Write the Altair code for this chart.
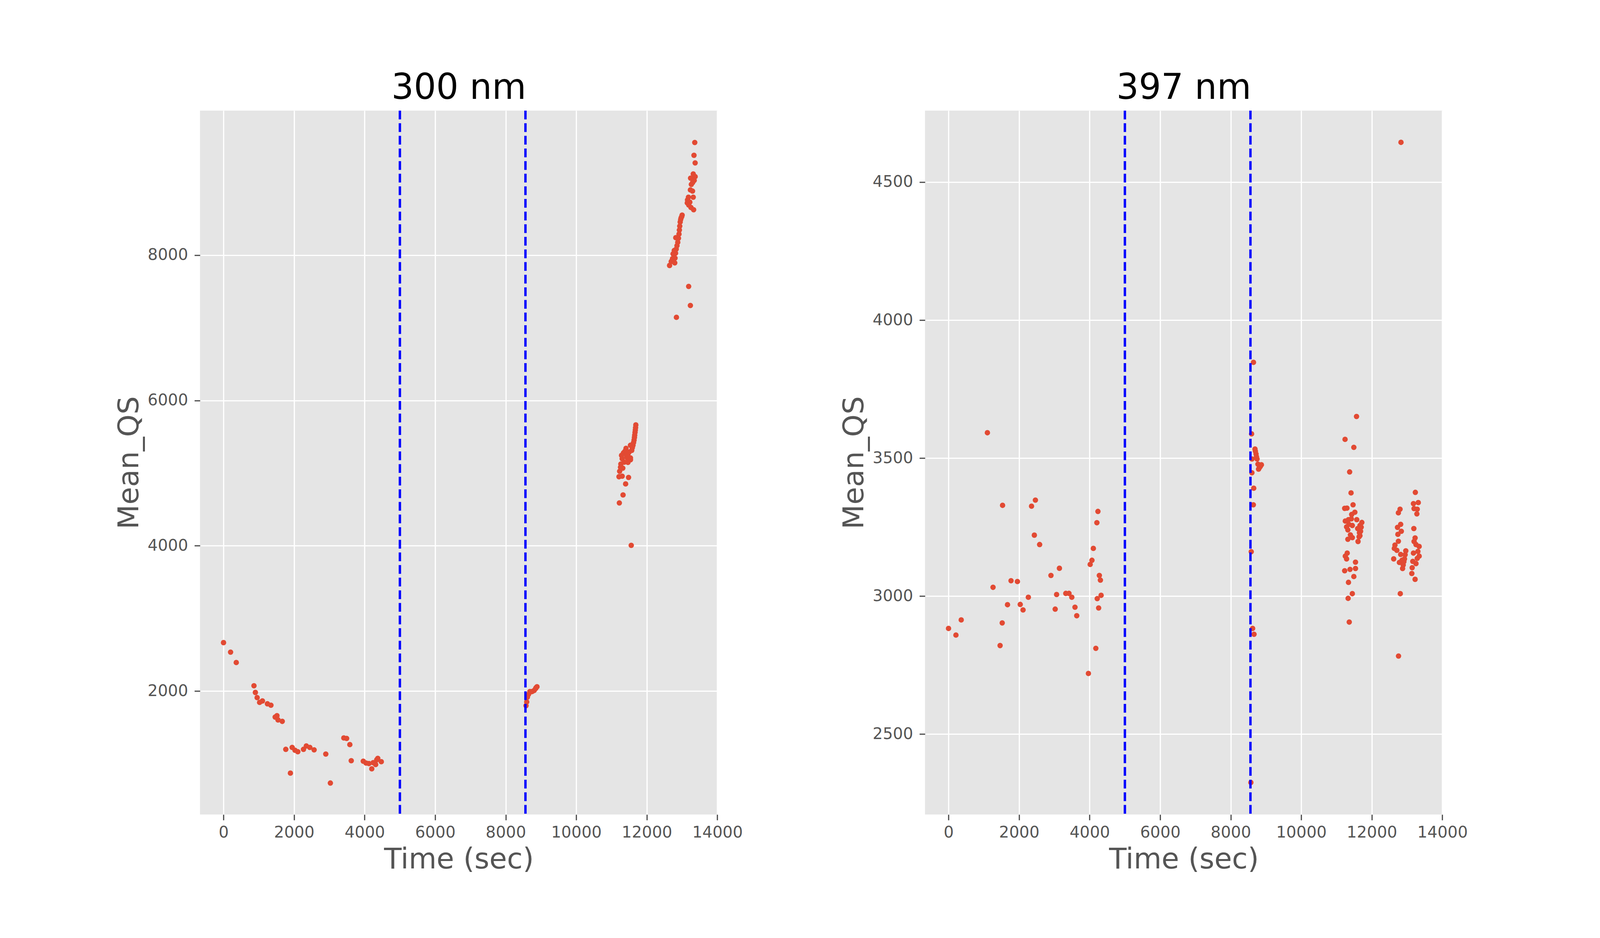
import altair as alt
import pandas as pd

# ---- data ----
t300 = [0, 200, 361, 863, 903, 953, 1023, 1103, 1244, 1344, 1464, 1515, 1545, 1665, 1765, 1896, 1946, 2026, 2106,
        2267, 2347, 2447, 2568, 2899, 3029, 3410, 3490, 3581, 3621, 3962, 4042, 4122, 4203, 4243, 4313, 4373, 4473, 4343,
        8576, 8596, 8616, 8646, 8686, 8747, 8807, 8847, 8887, 8860, 8720,
        11689, 11675, 11657, 11639, 11609, 11537, 11573, 11411, 11338, 11284, 11465, 11537, 11447, 11302, 11537, 11465,
        11265, 11320, 11230, 11212, 11302, 11483, 11400, 11327, 11222, 11559, 11682, 11667, 11650, 11625, 11590, 11380,
        11430, 11500, 11360, 11255,
        13360, 13338, 13371, 13317, 13241, 13371, 13344, 13263, 13300, 13236, 13296, 13181, 13317, 13148, 13220, 13253,
        13328, 13190, 13155, 13002, 12972, 12947, 12934, 12924, 12913, 12898, 12822, 12878, 12856, 12834, 12779, 12816,
        12745, 12800, 12729, 12693, 12793, 12646, 12960, 12990, 13187, 13236, 12840]
q300 = [2666, 2535, 2392, 2072, 1980, 1909, 1843, 1863, 1824, 1804, 1641, 1660, 1602, 1582, 1197, 870, 1223, 1184, 1164,
        1197, 1243, 1223, 1190, 1132, 733, 1354, 1347, 1262, 1040, 1034, 1008, 1001, 929, 1014, 988, 1073, 1027, 1053,
        1798, 1850, 1915, 1954, 1993, 1993, 2007, 2033, 2059, 2045, 1990,
        5663, 5593, 5523, 5455, 5383, 5383, 5313, 5340, 5278, 5244, 5261, 5209, 5209, 5197, 5183, 5147,
        5124, 5068, 5025, 4950, 4957, 4940, 4851, 4699, 4589, 4005, 5625, 5560, 5490, 5420, 5350, 5300,
        5230, 5290, 5150, 5080,
        9551, 9375, 9270, 9118, 9060, 9081, 9029, 8974, 9000, 8898, 8882, 8798, 8798, 8719, 8730, 8656,
        8625, 8690, 8760, 8551, 8513, 8457, 8400, 8346, 8290, 8233, 8241, 8177, 8130, 8083, 8064, 8027,
        8017, 7960, 7951, 7913, 7894, 7858, 8490, 8530, 7570, 7307, 7144]

t397 = [0, 210, 360, 1102, 1262, 1462, 1522, 1532, 1672, 1772, 1953, 2033, 2113, 2263, 2353, 2433, 2463, 2583, 2904,
        3024, 3064, 3144, 3325, 3415, 3495, 3585, 3635, 3966, 4016, 4066, 4106, 4176, 4206, 4216, 4236, 4256, 4276,
        4306, 4326,
        8646, 8592, 8689, 8718, 8747, 8772, 8790, 8870, 8603, 8601, 8653, 8642, 8582, 8622, 8662, 8572, 8700, 8730,
        8810, 8840,
        11567, 11242, 11491, 11372, 11412, 11469, 11231, 11296, 11520, 11430, 11249, 11339, 11574, 11718, 11285, 11448,
        11664, 11600, 11321, 11682, 11394, 11664, 11321, 11610, 11448, 11303, 11249, 11285, 11538, 11231, 11383, 11538,
        11491, 11339, 11448, 11329, 11361, 11640, 11650, 11700, 11350, 11420,
        12828, 13235, 13181, 13318, 13199, 13289, 13278, 12801, 12754, 12819, 12729, 12837, 12740, 12754, 12657, 12639,
        12711, 12621, 12783, 12873, 12964, 12927, 12891, 12819, 12855, 13192, 13228, 13199, 13343, 13253, 13307, 13181,
        13343, 13289, 13163, 13253, 13145, 13135, 13228, 12808, 12758, 12945, 12910]
q397 = [2883, 2859, 2914, 3592, 3032, 2821, 2903, 3329, 2969, 3056, 3053, 2970, 2950, 2996, 3326, 3221, 3348, 3187, 3075,
        2953, 3006, 3101, 3010, 3010, 2996, 2960, 2929, 2720, 3115, 3130, 3173, 2811, 3266, 2991, 3307, 2957, 3075,
        3058, 3003,
        3847, 3588, 3533, 3515, 3497, 3478, 3460, 3476, 3497, 3447, 3391, 3331, 3161, 2883, 2862, 2325, 3525, 3505,
        3465, 3470,
        3651, 3568, 3539, 3450, 3374, 3331, 3318, 3319, 3304, 3296, 3272, 3277, 3277, 3267, 3251, 3256,
        3256, 3245, 3240, 3235, 3222, 3219, 3206, 3198, 3212, 3156, 3145, 3135, 3123, 3092, 3097, 3100,
        3071, 3050, 3009, 2992, 2906, 3215, 3230, 3250, 3260, 3280,
        4644, 3376, 3335, 3339, 3317, 3315, 3298, 3315, 3302, 3260, 3249, 3235, 3224, 3199, 3185, 3173,
        3166, 3135, 3122, 3100, 3164, 3135, 3113, 3151, 3130, 3245, 3211, 3198, 3180, 3187, 3162, 3156,
        3145, 3137, 3126, 3118, 3103, 3082, 3061, 3009, 2783, 3150, 3125]

vlines = [5000, 8560]
x_ticks = [0, 2000, 4000, 6000, 8000, 10000, 12000, 14000]
y_ticks_300 = [2000, 4000, 6000, 8000]
y_ticks_397 = [2500, 3000, 3500, 4000, 4500]
titles = ["300 nm", "397 nm"]

FONT = "DejaVu Sans"
S = 1 / 1.0235          # page-to-picture scale correction
W, H = round(1356 * S), round(1843 * S)


def panel(t, q, title, ydom, yticks):
    df = pd.DataFrame({"t": t, "q": q})
    pts = alt.Chart(df).mark_circle(size=200 * S * S, color="#E24A33", opacity=1).encode(
        x=alt.X("t:Q",
                scale=alt.Scale(domain=[-667, 14007], nice=False, zero=False),
                axis=alt.Axis(values=x_ticks, format="d", title="Time (sec)",
                              labelOverlap=False, labelFlush=False,
                              labelBaseline="alphabetic", labelPadding=44,
                              titleBaseline="alphabetic", titleY=137, titleX=W / 2)),
        y=alt.Y("q:Q",
                scale=alt.Scale(domain=ydom, nice=False, zero=False),
                axis=alt.Axis(values=yticks, format="d", title="Mean_QS",
                              labelOverlap=False, labelFlush=False,
                              labelPadding=16.6, titleAngle=270,
                              titleBaseline="alphabetic", titleX=-159, titleY=H / 2,
                              titleAlign="center")),
    )
    rules = alt.Chart(pd.DataFrame({"v": vlines})).mark_rule(
        color="#0000FF", strokeDash=[22.5, 9.8], strokeWidth=6.1
    ).encode(x=alt.X("v:Q"))
    return alt.layer(pts, rules).properties(
        width=W, height=H,
        title=alt.TitleParams(title, fontSize=90, font=FONT, fontWeight="normal", color="black",
                              anchor="middle", frame="group", baseline="alphabetic", offset=-63),
    )


left = panel(t300, q300, titles[0], [300, 9990], y_ticks_300)
right = panel(t397, q397, titles[1], [2209, 4759], y_ticks_397)

chart = alt.hconcat(left, right, spacing=round(543 * S), bounds="flush").properties(
    padding={"left": 286, "top": 172, "right": 10, "bottom": 30},
    background="white",
).configure_view(
    fill="#E5E5E5", strokeWidth=0
).configure_axis(
    domain=False,
    grid=True, gridColor="white", gridWidth=3.2, gridOpacity=1,
    tickColor="#555555", tickWidth=3.2, tickSize=14.3,
    labelColor="#555555", labelFont=FONT, labelFontSize=40.7,
    titleColor="#555555", titleFont=FONT, titleFontSize=73.3, titleFontWeight="normal",
)

chart.save("out.html", embed_options={"renderer": "svg", "actions": False})
